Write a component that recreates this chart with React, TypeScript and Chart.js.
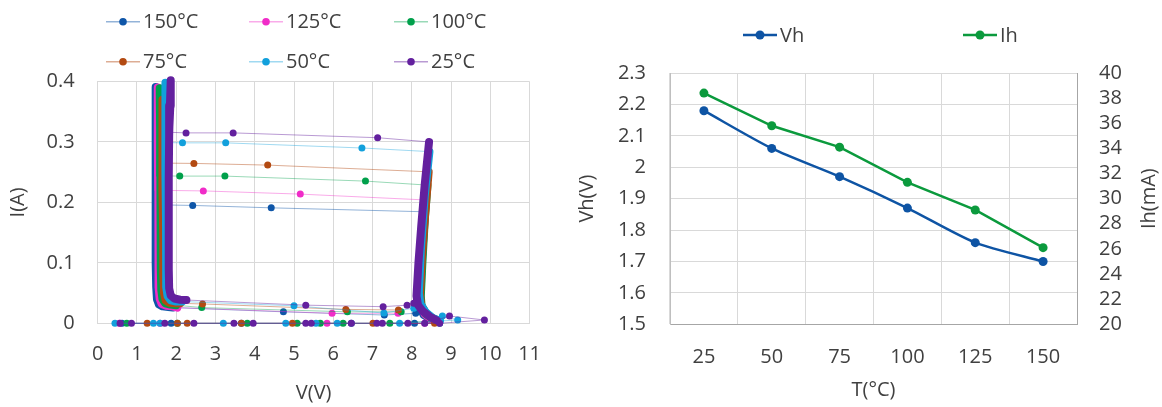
import React, { useEffect, useRef } from 'react';
import { Chart, registerables } from 'chart.js';

Chart.register(...registerables);

// ---------------- Left chart data (I-V curves) ----------------
const temps = ['150°C', '125°C', '100°C', '75°C', '50°C', '25°C'];
const colors = ['#0F56A8', '#F02CC8', '#00A04B', '#B34A12', '#12A0DC', '#63209E'];
const lightColors = [
  'rgba(15,86,168,0.45)',
  'rgba(240,44,200,0.40)',
  'rgba(0,160,75,0.40)',
  'rgba(179,74,18,0.45)',
  'rgba(18,160,220,0.40)',
  'rgba(99,32,158,0.45)',
];

// V values of points measured at I = 0
const zero150 = [0.62, 1.87, 3.66, 6.46, 8.07, 8.71];
const zero125 = [0.55, 1.59, 5.84, 8.33];
const zero100 = [0.74, 2.03, 3.81, 5.08, 5.67, 6.25, 7.44];
const zero75 = [1.26, 2.03, 2.28, 3.66, 4.96, 7.01, 8.58];
const zero50 = [0.44, 1.42, 1.59, 3.2, 4.79, 5.56, 6.1, 7.69];
const zero25 = [0.57, 0.86, 1.71, 2.45, 3.47, 3.96, 5.3, 5.44, 6.46, 7.11, 7.25, 7.9, 8.33, 8.71];

// high-voltage low-current points before the right knee
const tail150: number[][] = [];
const tail125: number[][] = [];
const tail100: number[][] = [];
const tail75: number[][] = [];
const tail50 = [[9.17, 0.0055], [8.78, 0.012]];
const tail25 = [[9.85, 0.0055], [8.96, 0.012]];

// right (trigger) branch, from knee bottom up to top
const right150 = [[8.62, 0.004], [8.45, 0.008], [8.3, 0.014], [8.22, 0.025], [8.2, 0.04], [8.22, 0.08], [8.26, 0.13], [8.32, 0.1845]];
const right125 = [[8.65, 0.004], [8.48, 0.008], [8.33, 0.015], [8.24, 0.027], [8.22, 0.042], [8.25, 0.09], [8.3, 0.15], [8.36, 0.204]];
const right100 = [[8.68, 0.004], [8.5, 0.009], [8.35, 0.016], [8.25, 0.029], [8.23, 0.045], [8.27, 0.1], [8.33, 0.17], [8.4, 0.2286]];
const right75 = [[8.7, 0.004], [8.52, 0.009], [8.36, 0.017], [8.24, 0.03], [8.21, 0.047], [8.26, 0.11], [8.34, 0.18], [8.43, 0.2506]];
const right50 = [[8.72, 0.004], [8.53, 0.009], [8.36, 0.018], [8.22, 0.032], [8.18, 0.05], [8.23, 0.12], [8.33, 0.21], [8.45, 0.284]];
const right25 = [[8.63, 0.005], [8.46, 0.011], [8.28, 0.02], [8.16, 0.03], [8.12, 0.045], [8.17, 0.1], [8.24, 0.16], [8.33, 0.23], [8.44, 0.3]];

// sparse points across the top
const top150 = [[4.42, 0.191], [2.42, 0.195]];
const top125 = [[5.16, 0.2137], [2.69, 0.219]];
const top100 = [[6.82, 0.2352], [3.24, 0.2435], [2.09, 0.2435]];
const top75 = [[4.33, 0.2617], [2.45, 0.2645]];
const top50 = [[6.73, 0.29], [3.26, 0.2985], [2.16, 0.2985]];
const top25 = [[7.13, 0.307], [3.45, 0.315], [2.25, 0.315]];

// left (holding) branch: junction, up to top, down to knee end
const left150 = [[1.48, 0.196], [1.47, 0.3], [1.47, 0.391], [1.48, 0.33], [1.48, 0.25], [1.48, 0.17], [1.48, 0.1], [1.49, 0.06], [1.51, 0.04], [1.56, 0.031], [1.65, 0.028], [1.8, 0.027], [1.92, 0.026]];
const left125 = [[1.54, 0.22], [1.53, 0.3], [1.53, 0.39], [1.54, 0.33], [1.54, 0.25], [1.55, 0.17], [1.55, 0.1], [1.56, 0.06], [1.58, 0.04], [1.63, 0.032], [1.75, 0.029], [1.9, 0.028], [2.03, 0.026]];
const left100 = [[1.6, 0.244], [1.59, 0.32], [1.58, 0.389], [1.59, 0.32], [1.6, 0.24], [1.61, 0.16], [1.61, 0.09], [1.62, 0.055], [1.65, 0.04], [1.72, 0.033], [1.85, 0.031], [2.0, 0.03]];
const left75 = [[1.66, 0.265], [1.65, 0.31], [1.64, 0.37], [1.65, 0.3], [1.66, 0.22], [1.67, 0.14], [1.67, 0.08], [1.69, 0.05], [1.73, 0.038], [1.82, 0.034], [1.98, 0.033], [2.1, 0.033]];
const left50 = [[1.73, 0.299], [1.72, 0.35], [1.72, 0.398], [1.73, 0.33], [1.73, 0.25], [1.74, 0.17], [1.74, 0.1], [1.75, 0.06], [1.78, 0.045], [1.86, 0.038], [2.0, 0.036], [2.15, 0.036]];
const left25 = [[1.82, 0.316], [1.85, 0.36], [1.86, 0.402], [1.84, 0.36], [1.82, 0.31], [1.81, 0.24], [1.81, 0.16], [1.81, 0.09], [1.82, 0.058], [1.86, 0.046], [1.95, 0.041], [2.1, 0.039], [2.26, 0.0385]];

// sparse points across the bottom
const bottom150 = [[4.73, 0.019], [7.3, 0.0137], [8.1, 0.0165]];
const bottom125 = [[5.97, 0.0165], [7.65, 0.0165]];
const bottom100 = [[2.65, 0.026], [6.36, 0.019], [7.73, 0.019]];
const bottom75 = [[2.67, 0.032], [6.32, 0.023], [7.66, 0.022]];
const bottom50 = [[5.0, 0.029], [7.29, 0.017], [8.05, 0.025]];
const bottom25 = [[5.3, 0.03], [7.27, 0.0275], [7.88, 0.03], [8.05, 0.033]];

const allZeros = [zero150, zero125, zero100, zero75, zero50, zero25];
const allTails = [tail150, tail125, tail100, tail75, tail50, tail25];
const allRights = [right150, right125, right100, right75, right50, right25];
const allTops = [top150, top125, top100, top75, top50, top25];
const allLefts = [left150, left125, left100, left75, left50, left25];
const allBottoms = [bottom150, bottom125, bottom100, bottom75, bottom50, bottom25];

// ---------------- Right chart data ----------------
const tempCategories = ['25', '50', '75', '100', '125', '150'];
const vhValues = [2.18, 2.06, 1.97, 1.87, 1.76, 1.7];
const ihValues = [38.4, 35.8, 34.1, 31.3, 29.1, 26.1];

const FONT = "'Open Sans', 'DejaVu Sans', sans-serif";
const TEXT = '#404040';

Chart.defaults.font.family = FONT;
Chart.defaults.font.size = 20;
Chart.defaults.color = TEXT;

const customLegend = {
  id: 'customLegend',
  afterDraw(chart: any, _args: any, opts: any) {
    const ctx = chart.ctx;
    ctx.save();
    for (const it of opts.items || []) {
      ctx.strokeStyle = it.line;
      ctx.lineWidth = it.lineWidth;
      ctx.beginPath();
      ctx.moveTo(it.x - 17, it.y);
      ctx.lineTo(it.x + 17, it.y);
      ctx.stroke();
      ctx.fillStyle = it.point;
      ctx.beginPath();
      ctx.arc(it.x, it.y, it.r, 0, Math.PI * 2);
      ctx.fill();
      ctx.fillStyle = TEXT;
      ctx.font = `20px ${FONT}`;
      ctx.textAlign = 'left';
      ctx.textBaseline = 'middle';
      ctx.fillText(it.text, it.x + 20, it.y + 1);
    }
    const rt = opts.rightTitle;
    if (rt) {
      const area = chart.chartArea;
      ctx.translate(rt.x, (area.top + area.bottom) / 2);
      ctx.rotate(-Math.PI / 2);
      ctx.fillStyle = TEXT;
      ctx.font = `20px ${FONT}`;
      ctx.textAlign = 'center';
      ctx.textBaseline = 'middle';
      ctx.fillText(rt.text, 0, 0);
    }
    ctx.restore();
  },
};

const fmt1 = (v: any) => {
  const n = Number(Number(v).toFixed(2));
  return String(n);
};

function buildLeftDatasets() {
  return temps.map((label, i) => {
    const pts: { x: number; y: number }[] = [];
    allZeros[i].forEach((v) => pts.push({ x: v, y: 0 }));
    allTails[i].forEach(([x, y]) => pts.push({ x, y }));
    const rStart = pts.length;
    allRights[i].forEach(([x, y]) => pts.push({ x, y }));
    const rEnd = pts.length - 1;
    allTops[i].forEach(([x, y]) => pts.push({ x, y }));
    const lStart = pts.length;
    allLefts[i].forEach(([x, y]) => pts.push({ x, y }));
    const lEnd = pts.length - 1;
    allBottoms[i].forEach(([x, y]) => pts.push({ x, y }));
    const ranges = [
      [rStart, rEnd],
      [lStart, lEnd],
    ];
    const inBranch = (a: number, b: number) => ranges.some(([s, e]) => a >= s && b <= e);
    return {
      label,
      data: pts,
      order: 6 - i,
      borderColor: lightColors[i],
      borderWidth: 1,
      backgroundColor: colors[i],
      pointBackgroundColor: colors[i],
      pointBorderColor: colors[i],
      pointBorderWidth: 0,
      pointRadius: (c: any) => (inBranch(c.dataIndex, c.dataIndex) ? 0 : 3.5),
      borderCapStyle: 'round',
      borderJoinStyle: 'round',
      tension: 0,
      clip: 10,
      segment: {
        borderWidth: (c: any) => (inBranch(c.p0DataIndex, c.p1DataIndex) ? 8 : 1),
        borderColor: (c: any) => (inBranch(c.p0DataIndex, c.p1DataIndex) ? colors[i] : lightColors[i]),
      },
    };
  });
}

function LeftChart() {
  const ref = useRef<HTMLCanvasElement>(null);
  useEffect(() => {
    const legendItems = temps.map((t, i) => ({
      text: t,
      x: [123, 266, 411][i % 3],
      y: i < 3 ? 21.7 : 61.7,
      line: lightColors[i],
      lineWidth: 1.5,
      point: colors[i],
      r: 3.8,
    }));
    const chart = new Chart(ref.current as HTMLCanvasElement, {
      type: 'line',
      data: { datasets: buildLeftDatasets() as any },
      plugins: [customLegend],
      options: {
        animation: false,
        responsive: false,
        events: [],
        layout: { padding: { left: 0, right: 30, top: 81.5, bottom: 0 } },
        plugins: {
          legend: { display: false },
          tooltip: { enabled: false },
          customLegend: { items: legendItems },
        } as any,
        scales: {
          x: {
            type: 'linear',
            min: 0,
            max: 11,
            ticks: { stepSize: 1, padding: 19, color: TEXT, autoSkip: false, maxRotation: 0 },
            grid: { color: '#D9D9D9', drawTicks: false },
            border: { color: '#D9D9D9' },
            title: { display: true, text: 'V(V)', color: TEXT, padding: { top: 0, bottom: 2 } },
            afterFit: (s: any) => {
              s.height = 83.7;
            },
          },
          y: {
            type: 'linear',
            min: 0,
            max: 0.4,
            ticks: { stepSize: 0.1, padding: 23, color: TEXT, autoSkip: false, callback: fmt1 },
            grid: { color: '#D9D9D9', drawTicks: false },
            border: { color: '#D9D9D9' },
            title: { display: true, text: 'I(A)', color: TEXT, padding: { top: 6, bottom: 0 } },
            afterFit: (s: any) => {
              s.width = 97.7;
            },
          },
        },
      } as any,
    });
    return () => chart.destroy();
  }, []);
  return (
    <canvas
      ref={ref}
      width={560}
      height={407}
      style={{ position: 'absolute', left: 0, top: 0, width: 560, height: 407, display: 'block' }}
    />
  );
}

function RightChart() {
  const ref = useRef<HTMLCanvasElement>(null);
  useEffect(() => {
    const blue = '#0E54A4';
    const green = '#0B9A3D';
    const chart = new Chart(ref.current as HTMLCanvasElement, {
      type: 'line',
      data: {
        labels: tempCategories,
        datasets: [
          {
            label: 'Vh',
            data: vhValues,
            yAxisID: 'y',
            borderColor: blue,
            backgroundColor: blue,
            pointBackgroundColor: blue,
            pointBorderWidth: 0,
            pointRadius: 4.5,
            borderWidth: 2.5,
            tension: 0.25,
          },
          {
            label: 'Ih',
            data: ihValues,
            yAxisID: 'y1',
            borderColor: green,
            backgroundColor: green,
            pointBackgroundColor: green,
            pointBorderWidth: 0,
            pointRadius: 4.5,
            borderWidth: 2.5,
            tension: 0,
          },
        ],
      },
      plugins: [customLegend],
      options: {
        animation: false,
        responsive: false,
        events: [],
        layout: { padding: { left: 0, right: 0, top: 73, bottom: 0 } },
        plugins: {
          legend: { display: false },
          tooltip: { enabled: false },
          customLegend: {
            items: [
              { text: 'Vh', x: 200, y: 35, line: blue, lineWidth: 2.5, point: blue, r: 4.5 },
              { text: 'Ih', x: 420, y: 35, line: green, lineWidth: 2.5, point: green, r: 4.5 },
            ],
            rightTitle: { text: 'Ih(mA)', x: 589 },
          },
        } as any,
        scales: {
          x: {
            type: 'category',
            offset: true,
            ticks: { padding: 21, color: TEXT, autoSkip: false, maxRotation: 0 },
            grid: { color: '#D9D9D9', drawTicks: false, offset: true },
            border: { color: '#A6A6A6' },
            title: { display: true, text: 'T(°C)', color: TEXT, padding: { top: 0, bottom: 5 } },
            afterFit: (s: any) => {
              s.height = 82.7;
            },
          },
          y: {
            type: 'linear',
            position: 'left',
            min: 1.5,
            max: 2.3,
            ticks: { stepSize: 0.1, padding: 24, color: TEXT, autoSkip: false, callback: fmt1 },
            grid: { color: '#D9D9D9', drawTicks: false },
            border: { color: '#BFBFBF' },
            title: { display: true, text: 'Vh(V)', color: TEXT, padding: { top: 15, bottom: 0 } },
            afterFit: (s: any) => {
              s.width = 110;
            },
          },
          y1: {
            type: 'linear',
            position: 'right',
            min: 20,
            max: 40,
            ticks: { stepSize: 2, padding: 22, color: TEXT, autoSkip: false, callback: fmt1 },
            grid: { drawOnChartArea: false, drawTicks: false },
            border: { color: '#A6A6A6' },
            title: { display: false },
            afterFit: (s: any) => {
              s.width = 85;
            },
          },
        },
      } as any,
    });
    return () => chart.destroy();
  }, []);
  return (
    <canvas
      ref={ref}
      width={602}
      height={407}
      style={{ position: 'absolute', left: 560, top: 0, width: 602, height: 407, display: 'block' }}
    />
  );
}

export default function App() {
  return (
    <div style={{ position: 'absolute', left: 0, top: 0, width: 1162, height: 407, background: '#FFFFFF', overflow: 'hidden' }}>
      <LeftChart />
      <RightChart />
    </div>
  );
}
